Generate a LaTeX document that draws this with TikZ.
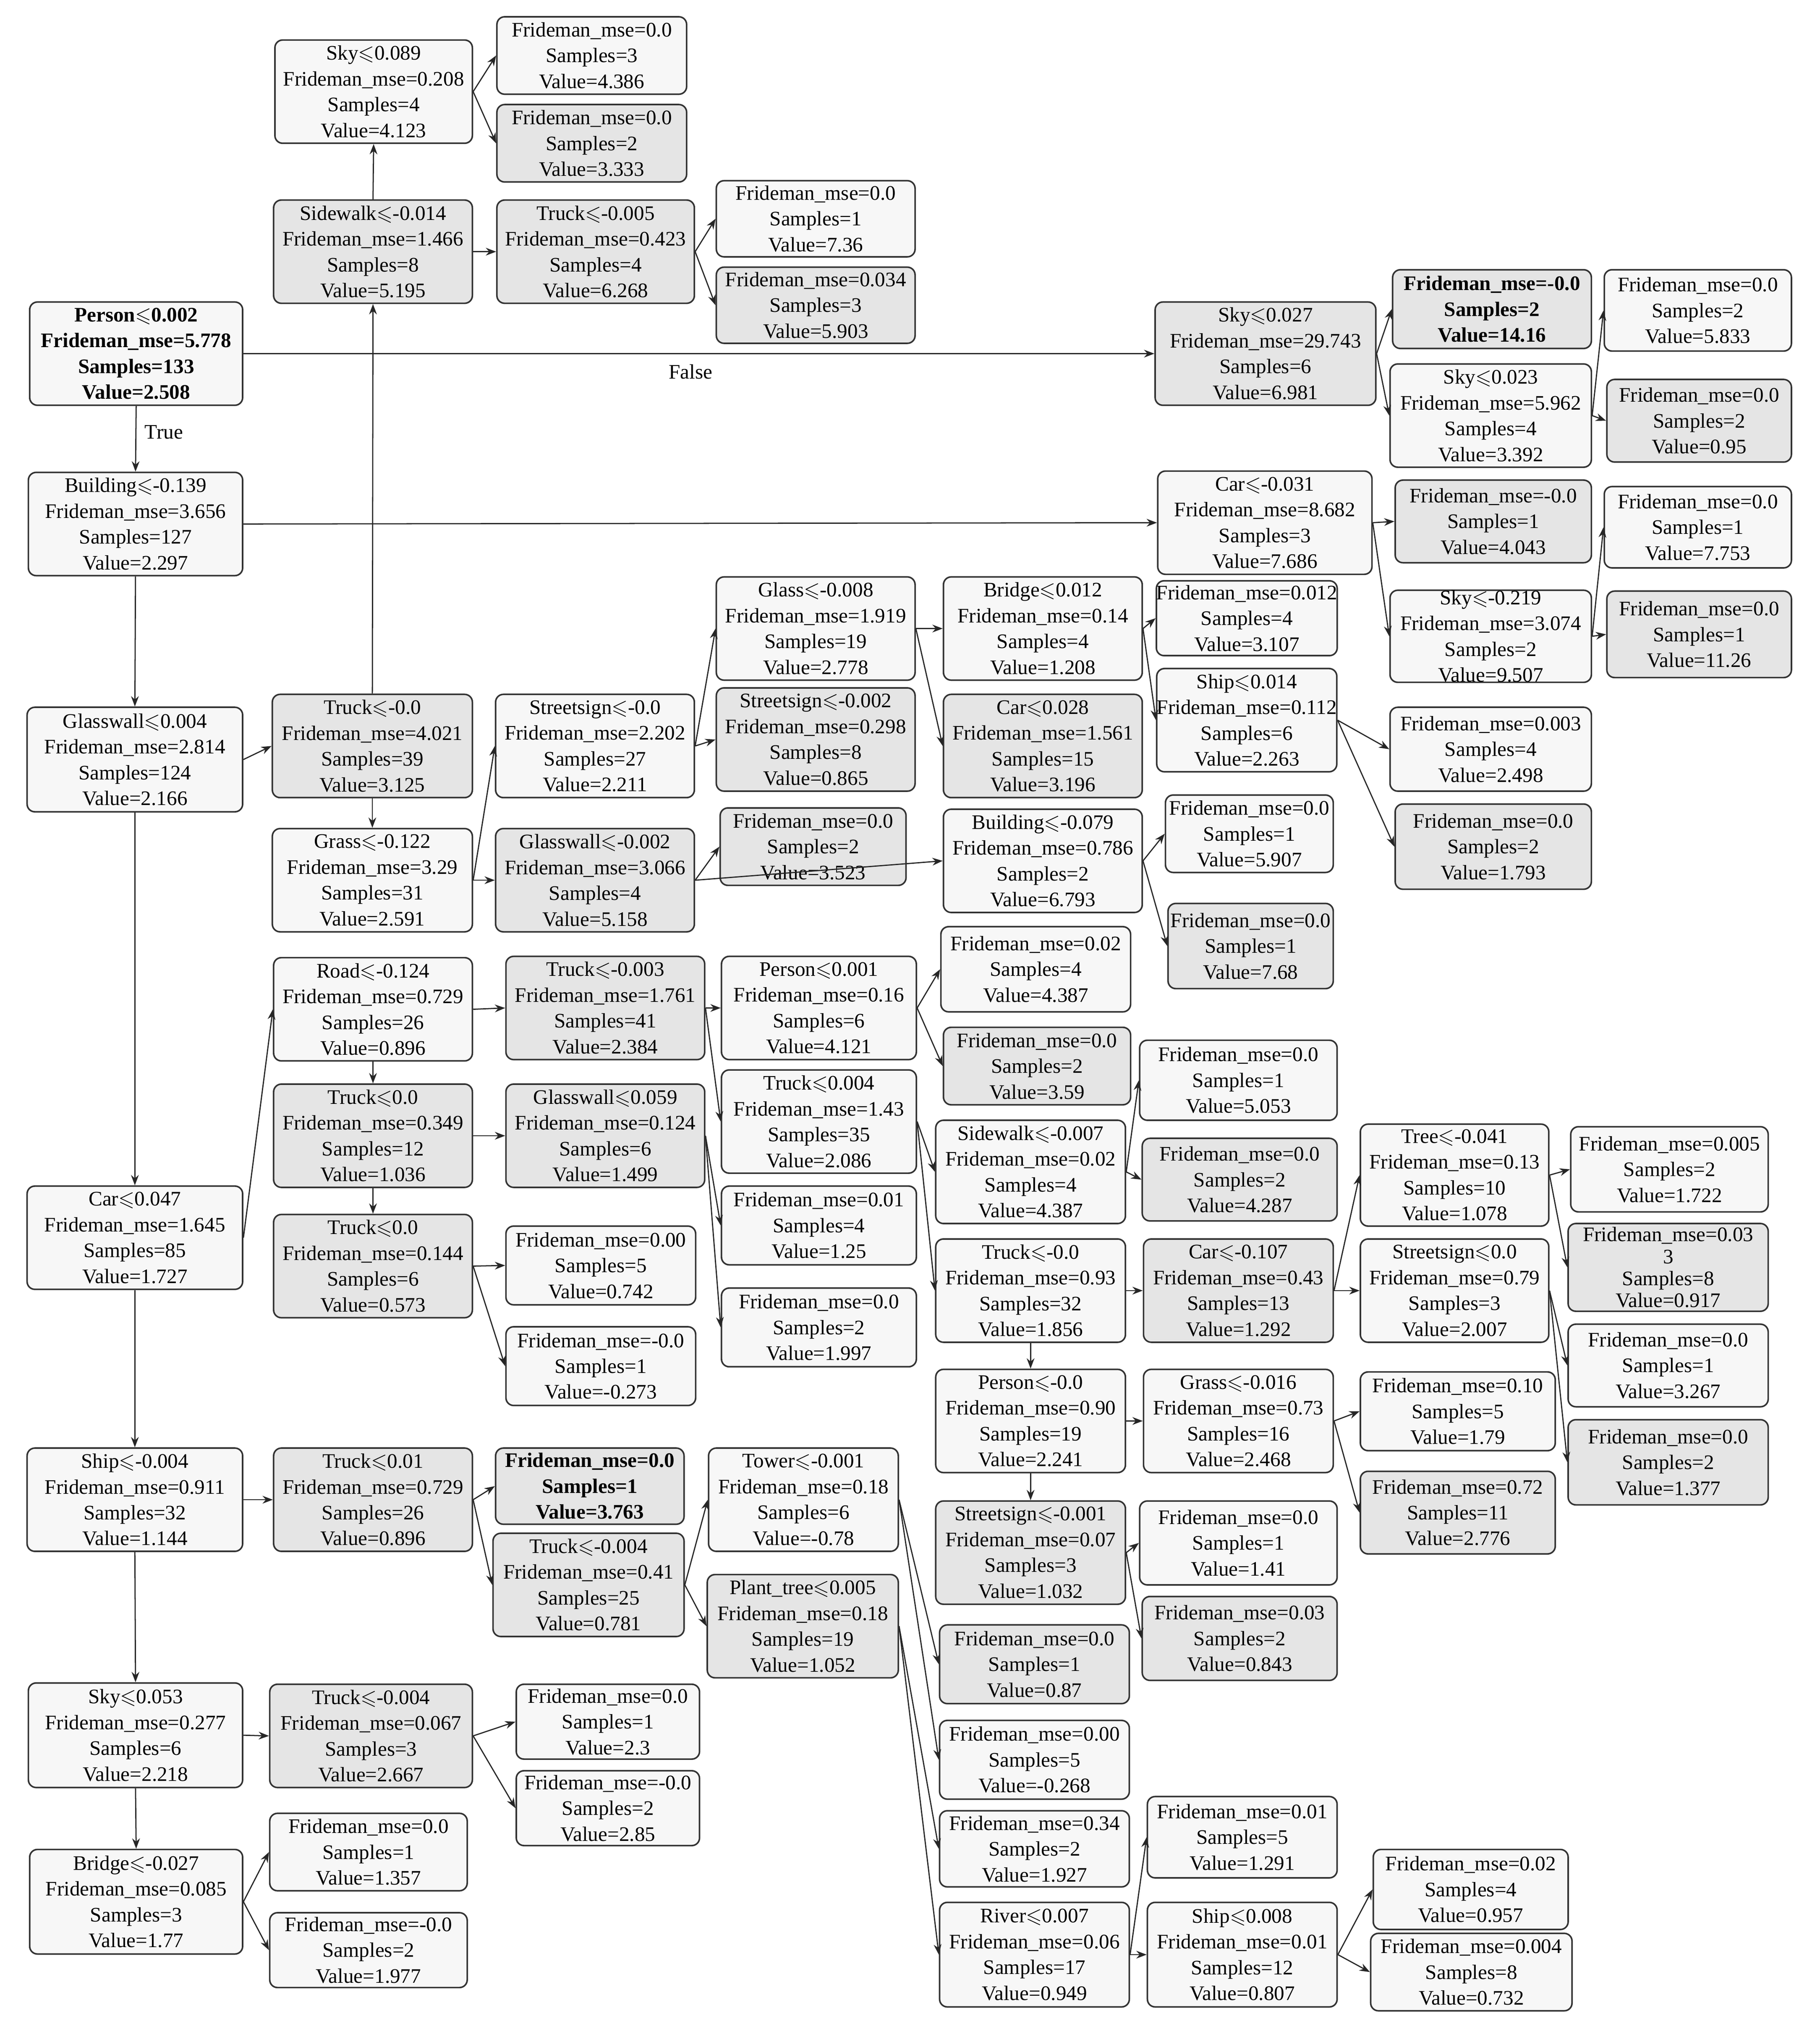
\documentclass[tikz,border=0pt]{standalone}
\usepackage{amssymb}
\usepackage{fontspec}
\setmainfont{Liberation Serif}
\usetikzlibrary{arrows.meta}
\newcommand\lqs{$\leqslant$}
\tikzset{
 bxs/.style={draw=black!80,line width=0.6pt,rounded corners=3pt,align=center,inner sep=0pt,font=\fontsize{8}{10}\selectfont},
 L/.style={bxs,fill=black!3},
 G/.style={bxs,fill=black!10},
 B/.style={bxs,fill=black!10,font=\fontsize{8}{10}\selectfont\bfseries},
 BL/.style={bxs,fill=black!3,font=\fontsize{8}{10}\selectfont\bfseries},
 ar/.style={-{Stealth[length=4pt,width=3pt]},line width=0.45pt,black!85},
 lab/.style={font=\fontsize{8}{10}\selectfont}
}
\newcommand\ed[2]{\draw[ar] (#1.east) -- (#2.west);}
\newcommand\vd[2]{\draw[ar] (#1.south) -- (#2.north);}
\newcommand\ud[2]{\draw[ar] (#1.north) -- (#2.south);}
\newcommand\Nd[9][L]{\def\valtmp{#9}\nodeB[#1]{#2}{#3}{#4}{#5}{#6}{#7}{#8}}
\newcommand\nodeB[8][L]{\node[#1,minimum width={(#5-#3)*0.5pt},minimum height={(#6-#4)*0.5pt}] (#2) at ({(#3+#5)/2},{(#4+#6)/2}) {#7\\Frideman\_mse=#8\\Samples=\smtmp\\Value=\valtmp};}
\newcommand\Sm[1]{\def\smtmp{#1}}
\newcommand\Lf[9][L]{\node[#1,minimum width={(#5-#3)*0.5pt},minimum height={(#6-#4)*0.5pt}] (#2) at ({(#3+#5)/2},{(#4+#6)/2}) {Frideman\_mse=#7\\Samples=#8\\Value=#9};}
\begin{document}
\begin{tikzpicture}[x=0.5pt,y=-0.5pt]
\fill[white] (0,0) rectangle (1410,1576);
\Sm{133}\Nd[BL]{A1}{23}{234}{188}{314}{Person\lqs0.002}{5.778}{2.508}
\Sm{127}\Nd{A2}{22}{366}{188}{446}{Building\lqs-0.139}{3.656}{2.297}
\Sm{124}\Nd{A3}{21}{548}{188}{629}{Glasswall\lqs0.004}{2.814}{2.166}
\Sm{85}\Nd{A4}{21}{919}{188}{999}{Car\lqs0.047}{1.645}{1.727}
\Sm{32}\Nd{A5}{21}{1122}{188}{1202}{Ship\lqs-0.004}{0.911}{1.144}
\Sm{6}\Nd{A6}{22}{1304}{188}{1385}{Sky\lqs0.053}{0.277}{2.218}
\Sm{3}\Nd{A7}{23}{1433}{188}{1514}{Bridge\lqs-0.027}{0.085}{1.77}
\Sm{4}\Nd{B1}{213}{31}{366}{111}{Sky\lqs0.089}{0.208}{4.123}
\Sm{8}\Nd[G]{B2}{212}{155}{366}{235}{Sidewalk\lqs-0.014}{1.466}{5.195}
\Sm{39}\Nd[G]{B3}{211}{538}{366}{618}{Truck\lqs-0.0}{4.021}{3.125}
\Sm{31}\Nd{B4}{211}{642}{366}{722}{Grass\lqs-0.122}{3.29}{2.591}
\Sm{26}\Nd{B5}{212}{742}{366}{822}{Road\lqs-0.124}{0.729}{0.896}
\Sm{12}\Nd[G]{B6}{212}{840}{366}{920}{Truck\lqs0.0}{0.349}{1.036}
\Sm{6}\Nd[G]{B7}{212}{941}{366}{1021}{Truck\lqs0.0}{0.144}{0.573}
\Sm{26}\Nd[G]{B8}{212}{1122}{366}{1202}{Truck\lqs0.01}{0.729}{0.896}
\Sm{3}\Nd[G]{B9}{209}{1305}{366}{1385}{Truck\lqs-0.004}{0.067}{2.667}
\Lf{B10}{209}{1405}{362}{1465}{0.0}{1}{1.357}
\Lf{B11}{209}{1482}{362}{1540}{-0.0}{2}{1.977}
\Lf{C1}{385}{13}{532}{73}{0.0}{3}{4.386}
\Lf[G]{C2}{385}{81}{532}{141}{0.0}{2}{3.333}
\Sm{4}\Nd[G]{C3}{385}{155}{538}{235}{Truck\lqs-0.005}{0.423}{6.268}
\Sm{27}\Nd{C4}{384}{538}{538}{618}{Streetsign\lqs-0.0}{2.202}{2.211}
\Sm{4}\Nd[G]{C5}{384}{642}{538}{722}{Glasswall\lqs-0.002}{3.066}{5.158}
\Sm{41}\Nd[G]{C6}{392}{741}{546}{821}{Truck\lqs-0.003}{1.761}{2.384}
\Sm{6}\Nd[G]{C7}{392}{840}{546}{920}{Glasswall\lqs0.059}{0.124}{1.499}
\Lf{C8}{392}{950}{539}{1011}{0.00}{5}{0.742}
\Lf{C9}{392}{1028}{539}{1089}{-0.0}{1}{-0.273}
\Lf[B]{C10}{384}{1122}{530}{1181}{0.0}{1}{3.763}
\Sm{25}\Nd[G]{C11}{382}{1188}{530}{1268}{Truck\lqs-0.004}{0.41}{0.781}
\Lf{C12}{400}{1305}{542}{1363}{0.0}{1}{2.3}
\Lf{C13}{400}{1372}{542}{1430}{-0.0}{2}{2.85}
\Lf{D1}{555}{140}{709}{199}{0.0}{1}{7.36}
\Lf[G]{D2}{555}{207}{709}{266}{0.034}{3}{5.903}
\Sm{19}\Nd{D3}{555}{447}{709}{527}{Glass\lqs-0.008}{1.919}{2.778}
\Sm{8}\Nd[G]{D4}{555}{533}{709}{613}{Streetsign\lqs-0.002}{0.298}{0.865}
\Lf[G]{D5}{558}{626}{702}{686}{0.0}{2}{3.523}
\Sm{6}\Nd{D6}{559}{741}{710}{821}{Person\lqs0.001}{0.16}{4.121}
\Sm{35}\Nd{D7}{559}{829}{710}{909}{Truck\lqs0.004}{1.43}{2.086}
\Lf{D8}{559}{919}{710}{980}{0.01}{4}{1.25}
\Lf{D9}{559}{998}{710}{1059}{0.0}{2}{1.997}
\Sm{6}\Nd{D10}{549}{1122}{696}{1202}{Tower\lqs-0.001}{0.18}{-0.78}
\Sm{19}\Nd[G]{D11}{548}{1220}{696}{1300}{Plant\_tree\lqs0.005}{0.18}{1.052}
\Sm{4}\Nd{E1}{731}{447}{885}{527}{Bridge\lqs0.012}{0.14}{1.208}
\Sm{15}\Nd[G]{E2}{731}{538}{885}{618}{Car\lqs0.028}{1.561}{3.196}
\Sm{2}\Nd{E3}{731}{627}{885}{707}{Building\lqs-0.079}{0.786}{6.793}
\Lf{E4}{729}{718}{876}{784}{0.02}{4}{4.387}
\Lf[G]{E5}{731}{796}{876}{856}{0.0}{2}{3.59}
\Sm{4}\Nd{E6}{725}{868}{872}{948}{Sidewalk\lqs-0.007}{0.02}{4.387}
\Sm{32}\Nd{E7}{725}{960}{872}{1040}{Truck\lqs-0.0}{0.93}{1.856}
\Sm{19}\Nd{E8}{725}{1061}{872}{1141}{Person\lqs-0.0}{0.90}{2.241}
\Sm{3}\Nd[G]{E9}{725}{1163}{872}{1243}{Streetsign\lqs-0.001}{0.07}{1.032}
\Lf[G]{E10}{728}{1259}{875}{1320}{0.0}{1}{0.87}
\Lf{E11}{728}{1333}{875}{1394}{0.00}{5}{-0.268}
\Lf{E12}{728}{1403}{875}{1462}{0.34}{2}{1.927}
\Sm{17}\Nd{E13}{728}{1474}{875}{1555}{River\lqs0.007}{0.06}{0.949}
\Sm{6}\Nd[G]{F1}{895}{234}{1066}{314}{Sky\lqs0.027}{29.743}{6.981}
\Sm{3}\Nd{F2}{897}{365}{1063}{445}{Car\lqs-0.031}{8.682}{7.686}
\Lf{F3}{899}{450}{1033}{508}{0.012}{4}{3.107}
\Sm{6}\Nd{F4}{899}{518}{1033}{598}{Ship\lqs0.014}{0.112}{2.263}
\Lf{F5}{903}{616}{1033}{676}{0.0}{1}{5.907}
\Lf[G]{F6}{905}{700}{1033}{766}{0.0}{1}{7.68}
\Lf{F7}{883}{806}{1036}{868}{0.0}{1}{5.053}
\Lf[G]{F8}{885}{882}{1036}{946}{0.0}{2}{4.287}
\Sm{13}\Nd[G]{F9}{886}{960}{1033}{1040}{Car\lqs-0.107}{0.43}{1.292}
\Sm{16}\Nd{F10}{886}{1061}{1033}{1141}{Grass\lqs-0.016}{0.73}{2.468}
\Lf{F11}{883}{1163}{1036}{1228}{0.0}{1}{1.41}
\Lf[G]{F12}{885}{1237}{1036}{1302}{0.03}{2}{0.843}
\Lf{F13}{889}{1392}{1036}{1455}{0.01}{5}{1.291}
\Sm{12}\Nd{F14}{889}{1474}{1036}{1555}{Ship\lqs0.008}{0.01}{0.807}
\Lf[B]{G1}{1079}{209}{1233}{270}{-0.0}{2}{14.16}
\Sm{4}\Nd{G2}{1077}{282}{1233}{362}{Sky\lqs0.023}{5.962}{3.392}
\Lf[G]{G3}{1081}{372}{1233}{436}{-0.0}{1}{4.043}
\Sm{2}\Nd{G4}{1077}{458}{1233}{528}{Sky\lqs-0.219}{3.074}{9.507}
\Lf{G5}{1077}{548}{1233}{613}{0.003}{4}{2.498}
\Lf[G]{G6}{1081}{623}{1233}{689}{0.0}{2}{1.793}
\Sm{10}\Nd{G7}{1054}{871}{1200}{950}{Tree\lqs-0.041}{0.13}{1.078}
\Sm{3}\Nd{G8}{1054}{960}{1200}{1040}{Streetsign\lqs0.0}{0.79}{2.007}
\Lf{G9}{1054}{1063}{1205}{1124}{0.10}{5}{1.79}
\Lf[G]{G10}{1054}{1140}{1205}{1204}{0.72}{11}{2.776}
\Lf{G11}{1064}{1433}{1215}{1495}{0.02}{4}{0.957}
\Lf{G12}{1062}{1498}{1218}{1558}{0.004}{8}{0.732}
\Lf{H1}{1243}{209}{1388}{272}{0.0}{2}{5.833}
\Lf[G]{H2}{1245}{294}{1388}{358}{0.0}{2}{0.95}
\Lf{H3}{1243}{377}{1388}{440}{0.0}{1}{7.753}
\Lf[G]{H4}{1245}{458}{1388}{525}{0.0}{1}{11.26}
\Lf{H5}{1217}{873}{1370}{939}{0.005}{2}{1.722}
\node[G,minimum width={155*0.5pt},minimum height={68*0.5pt},font=\fontsize{8}{8.5}\selectfont] (H6) at (1292.5,982) {Frideman\_mse=0.03\\3\\Samples=8\\Value=0.917};
\Lf{H7}{1215}{1026}{1370}{1090}{0.0}{1}{3.267}
\Lf[G]{H8}{1215}{1100}{1370}{1166}{0.0}{2}{1.377}
\vd{A1}{A2} \ed{A1}{F1}
\node[lab] at (127,335) {True};
\node[lab] at (535,288) {False};
\vd{A2}{A3} \ed{A2}{F2}
\ed{A3}{B3} \vd{A3}{A4}
\ud{B3}{B2} \vd{B3}{B4}
\ud{B2}{B1} \ed{B2}{C3}
\ed{B1}{C1} \ed{B1}{C2}
\ed{C3}{D1} \ed{C3}{D2}
\ed{B4}{C4} \ed{B4}{C5}
\ed{C4}{D3} \ed{C4}{D4}
\ed{D3}{E1} \ed{D3}{E2}
\ed{E1}{F3} \ed{E1}{F4}
\ed{F4}{G5} \ed{F4}{G6}
\ed{C5}{D5} \ed{C5}{E3}
\ed{E3}{F5} \ed{E3}{F6}
\ed{F1}{G1} \ed{F1}{G2}
\ed{G2}{H1} \ed{G2}{H2}
\ed{F2}{G3} \ed{F2}{G4}
\ed{G4}{H3} \ed{G4}{H4}
\ed{A4}{B5} \vd{A4}{A5}
\ed{B5}{C6} \vd{B5}{B6}
\ed{B6}{C7} \vd{B6}{B7}
\ed{B7}{C8} \ed{B7}{C9}
\ed{C6}{D6} \ed{C6}{D7}
\ed{D6}{E4} \ed{D6}{E5}
\ed{D7}{E6} \ed{D7}{E7}
\ed{E6}{F7} \ed{E6}{F8}
\ed{E7}{F9} \vd{E7}{E8}
\ed{F9}{G7} \ed{F9}{G8}
\ed{G7}{H5} \ed{G7}{H6}
\ed{G8}{H7} \ed{G8}{H8}
\ed{E8}{F10} \vd{E8}{E9}
\ed{F10}{G9} \ed{F10}{G10}
\ed{E9}{F11} \ed{E9}{F12}
\ed{C7}{D8} \ed{C7}{D9}
\ed{A5}{B8} \vd{A5}{A6}
\ed{B8}{C10} \ed{B8}{C11}
\ed{C11}{D10} \ed{C11}{D11}
\ed{D10}{E10} \ed{D10}{E11}
\ed{D11}{E12} \ed{D11}{E13}
\ed{E13}{F13} \ed{E13}{F14}
\ed{F14}{G11} \ed{F14}{G12}
\ed{A6}{B9} \vd{A6}{A7}
\ed{B9}{C12} \ed{B9}{C13}
\ed{A7}{B10} \ed{A7}{B11}
\end{tikzpicture}
\end{document}
